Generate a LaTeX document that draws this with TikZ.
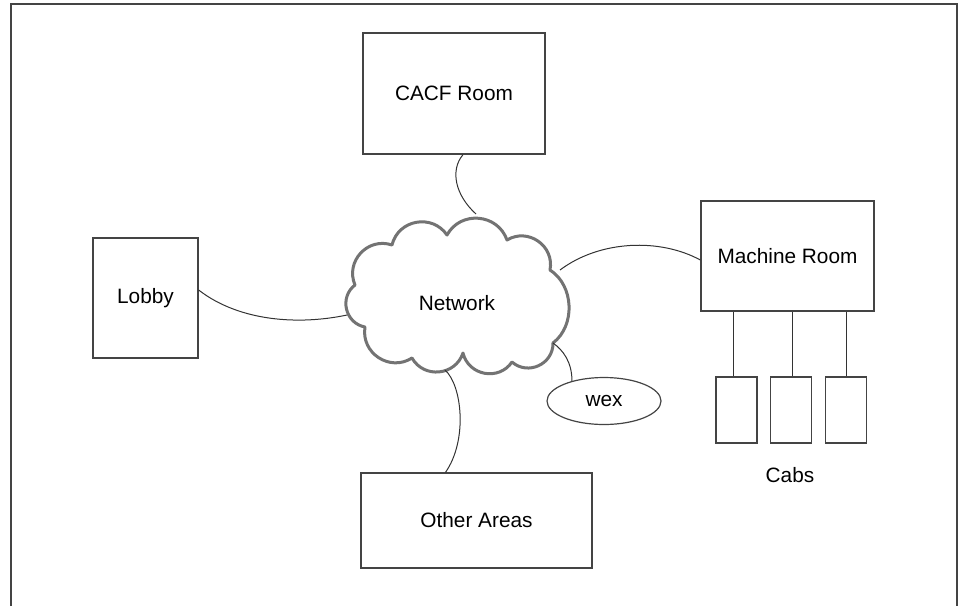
\documentclass[tikz,border=0pt]{standalone}
\usepackage{fontspec}
\setmainfont{Liberation Sans}
\usetikzlibrary{shapes.geometric}
\definecolor{boxline}{HTML}{444444}
\definecolor{linkline}{HTML}{333333}
\definecolor{cloudline}{HTML}{737373}
\begin{document}
\begin{tikzpicture}[x=1pt,y=-1pt,
  lbl/.style={font=\fontsize{20.8}{24}\selectfont, text=black},
  room/.style={draw=boxline, line width=1.3pt, fill=white, inner sep=0pt, lbl},
  cab/.style={draw=boxline, line width=1.3pt, fill=white, minimum width=41pt, minimum height=66pt},
  link/.style={draw=linkline, line width=1pt},
  puff/.style={bend left=66, looseness=1.2},
  flatpuff/.style={bend left=55, looseness=1.0},
  cloudstyle/.style={draw=cloudline, line width=3pt, fill=white, line join=round}]
\useasboundingbox (0,0) rectangle (959,606);
% outer frame (open at the bottom)
\draw[draw=boxline, line width=2pt] (11,606) -- (11,4) -- (957,4) -- (957,606);

% rooms
\node[room, minimum width=182pt, minimum height=121pt] (cacf) at (454,93.5) {CACF Room};
\node[room, minimum width=105pt, minimum height=120pt] (lobby) at (145.5,298) {Lobby};
\node[room, minimum width=173pt, minimum height=110pt] (machine) at (787.5,256) {Machine Room};
\node[room, minimum width=231pt, minimum height=95pt] (other) at (476.5,520.5) {Other Areas};

% cabs
\node[cab] (cab1) at (736.5,410) {};
\node[cab] (cab2) at (791,410) {};
\node[cab] (cab3) at (846,410) {};
\node[lbl] (cabs) at (790,475) {Cabs};

% wex
\node[ellipse, draw=boxline, line width=1.2pt, fill=white, minimum width=114pt, minimum height=47pt, inner sep=0pt, lbl] (wex) at (604,401) {wex};

% cloud
\draw[cloudstyle] (355,285) to[puff] (392,245) to[puff] (447,235) to[puff] (507,240)
  to[puff] (550,270) to[flatpuff] (553,343) to[puff] (512,362) to[puff] (463,353)
  to[puff] (412,358) to[puff] (365,327) to[puff] (355,285) -- cycle;
\node[lbl] (net) at (457,303) {Network};
\coordinate (ctop) at (476,214);
\coordinate (cleft) at (347,315);
\coordinate (cright) at (560,270);
\coordinate (cwex) at (553,343);
\coordinate (cbot) at (445,370);

% connectors
\draw[link] ([xshift=9pt]cacf.south) .. controls (450,170) and (455,195) .. (ctop);
\draw[link] ([yshift=8pt]lobby.east) .. controls (240,322) and (300,325) .. (cleft);
\draw[link] (cright) .. controls (600,240) and (660,238) .. ([yshift=-4pt]machine.west);
\draw[link] (cwex) .. controls (563,350) and (572,362) .. (wex.148);
\draw[link] (cbot) .. controls (462,385) and (468,440) .. ([xshift=-31pt]other.north);

\draw[link] ([xshift=-3pt]cab1.north) -- ([xshift=-3pt]cab1.north |- machine.south);
\draw[link] ([xshift=1pt]cab2.north) -- ([xshift=1pt]cab2.north |- machine.south);
\draw[link] (cab3.north) -- (cab3.north |- machine.south);
\end{tikzpicture}
\end{document}
